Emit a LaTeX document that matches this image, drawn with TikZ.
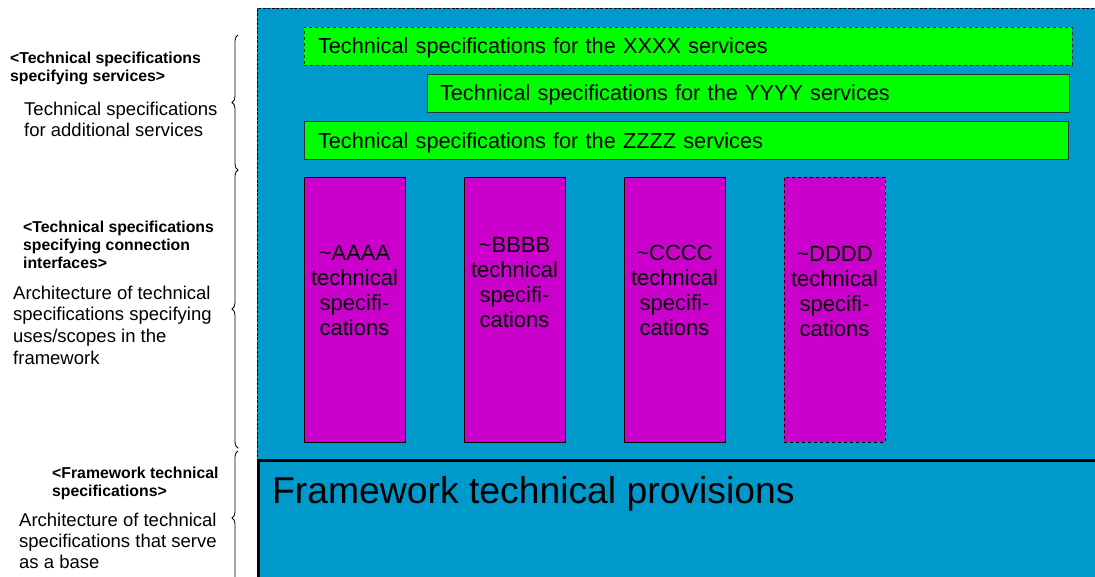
\documentclass[tikz,border=0pt]{standalone}
\usepackage{fontspec}
\setmainfont{Liberation Sans}
\usetikzlibrary{positioning, decorations.pathreplacing}

\definecolor{areablue}{RGB}{0,153,204}
\definecolor{servgreen}{RGB}{0,255,0}
\definecolor{specmagenta}{RGB}{204,0,204}

\begin{document}
\begin{tikzpicture}[
            x = 1pt, y = -1pt, % one unit per pixel, y going down
            inner sep = 0pt,
            node distance = 10pt,
            thin % line style
        ]

        \tikzstyle{bluearea}=[
            draw = black,
            fill = areablue,
            dash pattern = on 3pt off 1.5pt,
            anchor = north west
        ]
        \tikzstyle{servbar}=[
            draw = black!80,
            fill = servgreen,
            line width = 0.8pt,
            minimum height = 38pt,
            text depth = 0pt,
            align = left,
            font = \fontsize{21.7}{26}\selectfont
        ]
        \tikzstyle{specbox}=[
            draw = black,
            fill = specmagenta,
            minimum width = 101pt,
            minimum height = 265pt
        ]
        \tikzstyle{spectext}=[
            align = center,
            font = \fontsize{22}{25}\selectfont
        ]
        \tikzstyle{headtext}=[
            align = left,
            anchor = base west, % base of the last line
            font = \fontsize{15.8}{17.8}\selectfont\bfseries
        ]
        \tikzstyle{bodytext}=[
            align = left,
            anchor = base west,
            font = \fontsize{18.5}{21}\selectfont
        ]
        \tikzstyle{brace}=[
            decorate,
            line width = 0.8pt,
            decoration = {brace, amplitude = 6pt}
        ]

        \useasboundingbox (0,0) rectangle (1095,576);

        % blue area with the additional services and connection interfaces
        \node[bluearea, minimum width=850pt, minimum height=590pt] (area) at (257,8) {};

        \node[servbar, dashed, minimum width=768pt, text width=740pt] (xxxx) at (688,46)
            {Technical specifications for the XXXX services};
        \node[servbar, minimum width=642pt, text width=616pt] (yyyy) at (748,93)
            {Technical specifications for the YYYY services};
        \node[servbar, minimum width=764pt, text width=736pt] (zzzz) at (686,140.5)
            {Technical specifications for the ZZZZ services};

        \node[specbox] (aaaa) at (354.5,309.5) {};
        \node[specbox] (bbbb) at (514.5,309.5) {};
        \node[specbox] (cccc) at (674.5,309.5) {};
        \node[specbox, dashed] (dddd) at (834.5,309.5) {};

        \node[spectext, below=68pt of aaaa.north] (aaaatext) {\textasciitilde AAAA\\technical\\specifi-\\cations};
        \node[spectext, below=60pt of bbbb.north] (bbbbtext) {\textasciitilde BBBB\\technical\\specifi-\\cations};
        \node[spectext, below=68pt of cccc.north] (cccctext) {\textasciitilde CCCC\\technical\\specifi-\\cations};
        \node[spectext, below=69pt of dddd.north] (ddddtext) {\textasciitilde DDDD\\technical\\specifi-\\cations};

        % framework at the base
        \node[draw = black, fill = areablue, line width = 3pt, anchor = north west,
              minimum width = 850pt, minimum height = 130pt] (frame) at (257,459) {};
        \node[anchor = base west, font = \fontsize{37.3}{44}\selectfont] (frametext) at (272,503)
            {Framework technical provisions};

        % labels on the left
        \node[headtext] (servhead) at (10,81.5) {<Technical specifications\\specifying services>};
        \node[bodytext] (servbody) at (24,136) {Technical specifications\\for additional services};

        \node[headtext] (connhead) at (23,268) {<Technical specifications\\specifying connection\\interfaces>};
        \node[bodytext, font = \fontsize{18.5}{21.6}\selectfont] (connbody) at (13,364)
            {Architecture of technical\\specifications specifying\\uses/scopes in the\\framework};

        \node[headtext] (basehead) at (52,496) {<Framework technical\\specifications>};
        \node[bodytext] (basebody) at (19,568) {Architecture of technical\\specifications that serve\\as a base};

        \coordinate (b1) at (238,35);
        \coordinate (b2) at (238,170);
        \coordinate (b3) at (238,448);
        \coordinate (b4) at (238,451);
        \coordinate (b5) at (238,585);

        \draw[brace] (b2) -- (b1);
        \draw[brace] (b3) -- (b2);
        \draw[brace] (b5) -- (b4);
    \end{tikzpicture}
\end{document}
